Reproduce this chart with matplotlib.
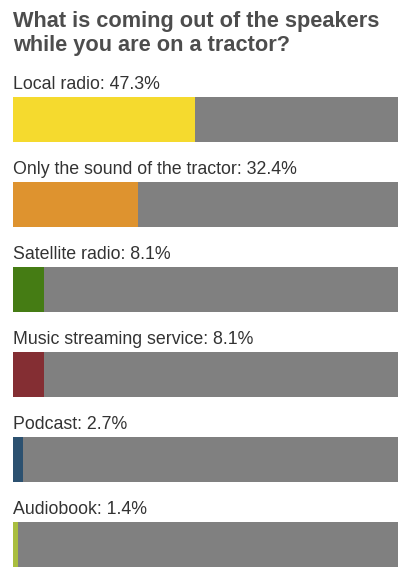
import matplotlib
matplotlib.use("Agg")
import matplotlib.pyplot as plt

categories = ["Local radio", "Only the sound of the tractor", "Satellite radio",
              "Music streaming service", "Podcast", "Audiobook"]
values = [47.3, 32.4, 8.1, 8.1, 2.7, 1.4]
colors = ["#F5DA2E", "#DE932F", "#457C14", "#842E33", "#2C5170", "#A9BE3F"]
title = "What is coming out of the speakers\nwhile you are on a tractor?"

W, H = 409, 579
fig = plt.figure(figsize=(W / 100, H / 100), dpi=100)
plt.rcParams['font.family'] = ['Liberation Sans', 'DejaVu Sans']

x0, x1 = 13, 398
ax = fig.add_axes([x0 / W, 0, (x1 - x0) / W, 1])
first_center, step = 119.5, 85.0
ax.set_ylim((H - first_center) / step, -first_center / step)
ax.set_xlim(0, 100)
ax.axis("off")

bar_h = 45 / step
for i, (cat, v, c) in enumerate(zip(categories, values, colors)):
    ax.barh(i, 100, height=bar_h, color="#808080", left=0, linewidth=0)
    ax.barh(i, v, height=bar_h, color=c, left=0, linewidth=0)
    ax.text(0, i - 30.5 / step, f"{cat}: {v}%", ha="left", va="baseline",
            fontsize=12.8, color="#333333")

lines = title.split("\n")
fig.text(x0 / W, 1 - 27.5 / H, lines[0], ha="left", va="baseline",
         fontsize=15.7, fontweight="bold", color="#4d4d4d")
fig.text(x0 / W, 1 - 51.5 / H, lines[1], ha="left", va="baseline",
         fontsize=15.7, fontweight="bold", color="#4d4d4d")

fig.savefig("out.png", dpi=100, facecolor="white")
